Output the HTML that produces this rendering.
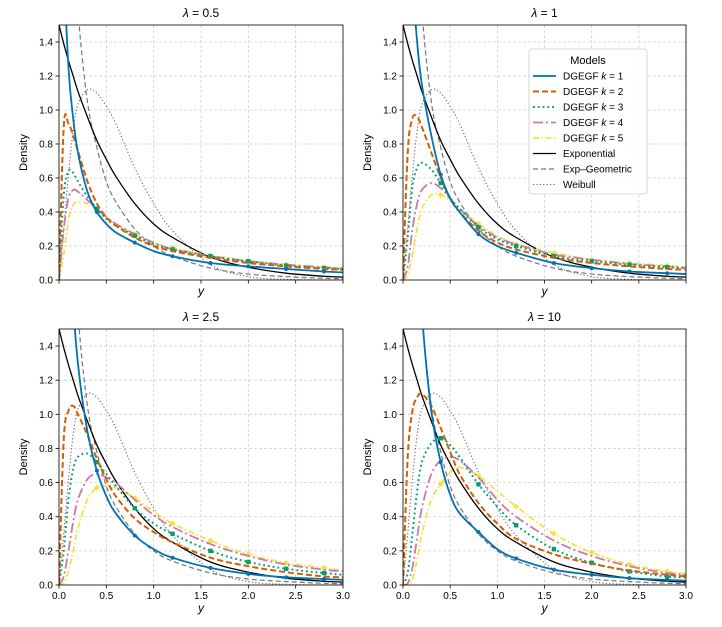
<!DOCTYPE html>
<html><head><meta charset="utf-8"><style>
body{margin:0;background:#fff;}
svg{display:block;font-family:"Liberation Sans","DejaVu Sans",sans-serif;}
</style></head><body>
<svg id="fig" width="722" height="627" viewBox="0 0 722 627" xmlns="http://www.w3.org/2000/svg"></svg>
<script>
const xs = [0,0.05,0.1,0.15,0.2,0.3,0.4,0.5,0.6,0.8,1.0,1.2,1.6,2.0,2.4,2.8,3.0];
const expo = [1.5,1.39,1.29,1.2,1.11,0.96,0.82,0.71,0.61,0.45,0.33,0.25,0.135,0.075,0.04,0.022,0.017];
const expGeo = [3,3,3,2.3,1.6,1.05,0.78,0.58,0.46,0.3,0.2,0.14,0.07,0.035,0.02,0.01,0.008];
const weib = [0,0.3,0.62,0.88,1.03,1.12,1.1,1.02,0.92,0.66,0.45,0.29,0.09,0.02,0.004,0,0];
const titles = ["0.5","1","2.5","10"];
const k1 = [
 [3,1.9,1.25,0.95,0.75,0.52,0.40,0.33,0.28,0.22,0.17,0.14,0.10,0.08,0.065,0.05,0.045],
 [3,2.6,1.8,1.4,1.15,0.85,0.62,0.48,0.4,0.27,0.2,0.16,0.1,0.07,0.05,0.04,0.035],
 [3,3,2.6,1.7,1.3,0.9,0.67,0.52,0.42,0.29,0.21,0.16,0.1,0.065,0.045,0.035,0.03],
 [3,3,3,2.2,1.6,1.02,0.72,0.53,0.42,0.31,0.21,0.155,0.09,0.06,0.04,0.03,0.025]];
const k2 = [
 [0,0.9,0.92,0.85,0.76,0.58,0.45,0.37,0.32,0.25,0.2,0.17,0.13,0.1,0.08,0.065,0.06],
 [0,0.75,0.95,0.96,0.9,0.75,0.6,0.48,0.4,0.29,0.22,0.18,0.13,0.1,0.08,0.065,0.06],
 [0,0.85,1.02,1.05,1.0,0.88,0.74,0.62,0.52,0.39,0.31,0.25,0.16,0.11,0.075,0.05,0.045],
 [0,0.75,1.02,1.1,1.12,1.05,0.92,0.78,0.65,0.48,0.36,0.27,0.18,0.125,0.085,0.06,0.05]];
const k3 = [
 [0,0.5,0.64,0.63,0.58,0.49,0.42,0.36,0.32,0.26,0.21,0.18,0.14,0.11,0.085,0.07,0.065],
 [0,0.25,0.55,0.66,0.69,0.65,0.57,0.48,0.42,0.31,0.24,0.2,0.14,0.11,0.09,0.075,0.07],
 [0,0.2,0.5,0.68,0.75,0.77,0.72,0.65,0.58,0.45,0.36,0.3,0.2,0.135,0.095,0.07,0.06],
 [0,0.07,0.3,0.55,0.72,0.83,0.86,0.82,0.75,0.59,0.46,0.35,0.21,0.13,0.08,0.05,0.045]];
const k4 = [
 [0,0.3,0.48,0.53,0.52,0.47,0.42,0.37,0.33,0.27,0.22,0.18,0.14,0.11,0.09,0.075,0.068],
 [0,0.08,0.3,0.45,0.53,0.57,0.54,0.48,0.42,0.32,0.25,0.21,0.15,0.12,0.095,0.08,0.072],
 [0,0.05,0.2,0.37,0.5,0.62,0.65,0.63,0.6,0.5,0.41,0.34,0.24,0.17,0.12,0.09,0.08],
 [0,0.01,0.1,0.28,0.45,0.65,0.73,0.75,0.73,0.63,0.5,0.4,0.26,0.17,0.11,0.07,0.06]];
const k5 = [
 [0,0.15,0.35,0.44,0.46,0.45,0.41,0.37,0.33,0.27,0.22,0.19,0.145,0.115,0.09,0.075,0.07],
 [0,0.03,0.15,0.3,0.42,0.5,0.5,0.47,0.42,0.33,0.26,0.21,0.16,0.12,0.1,0.085,0.075],
 [0,0.01,0.08,0.2,0.33,0.5,0.57,0.58,0.57,0.51,0.43,0.36,0.26,0.18,0.13,0.1,0.085],
 [0,0,0.03,0.15,0.3,0.5,0.59,0.66,0.69,0.64,0.55,0.46,0.3,0.19,0.12,0.08,0.065]];
const xTicks = ["0.0","0.5","1.0","1.5","2.0","2.5","3.0"];
const yTicks = ["0.0","0.2","0.4","0.6","0.8","1.0","1.2","1.4"];

const NS="http://www.w3.org/2000/svg";
const svg=document.getElementById('fig');
function mk(tag,attrs,parent){const e=document.createElementNS(NS,tag);for(const k in attrs)e.setAttribute(k,attrs[k]);(parent||svg).appendChild(e);return e;}
const panels=[{l:59,r:343,t:25,b:280,lab:false},{l:403,r:686,t:25,b:280,lab:false},{l:59,r:343,t:329,b:585,lab:true},{l:403,r:686,t:329,b:585,lab:true}];
const markerIdx=[6,9,11,12,13,14,15];
function pathFrom(px,py){let d="M"+px[0]+","+py[0];for(let i=0;i<px.length-1;i++){const x0=px[i>0?i-1:i],y0=py[i>0?i-1:i],x1=px[i],y1=py[i],x2=px[i+1],y2=py[i+1],x3=px[i+2<px.length?i+2:i+1],y3=py[i+2<px.length?i+2:i+1];d+=" C"+(x1+(x2-x0)/6).toFixed(2)+","+(y1+(y2-y0)/6).toFixed(2)+" "+(x2-(x3-x1)/6).toFixed(2)+","+(y2-(y3-y1)/6).toFixed(2)+" "+x2.toFixed(2)+","+y2.toFixed(2);}return d;}
panels.forEach((p,pi)=>{
  const g=mk('g',{});
  
  
  const sx=v=>p.l+(p.r-p.l)*v/3, sy=v=>p.b-(p.b-p.t)*v/1.5;
  const cid='clip'+pi;
  const cp=mk('clipPath',{id:cid},g);mk('rect',{x:p.l,y:p.t,width:p.r-p.l,height:p.b-p.t},cp);
  // grid
  xTicks.forEach((t,i)=>{const x=sx(i*0.5);
    const gl=mk('line',{x1:x,x2:x,y1:p.t,y2:p.b,stroke:'#d0d0d0','stroke-width':0.8,'stroke-dasharray':'3,2'},g);
    
    
    mk('line',{x1:x,x2:x,y1:p.b,y2:p.b+3.5,stroke:'#000','stroke-width':0.8},g);
    if(p.lab){const tx=mk('text',{x:x,y:p.b+14,'font-size':10,'text-anchor':'middle',fill:'#000'},g);tx.textContent=t;
      
      }
  });
  yTicks.forEach((t,i)=>{const y=sy(i*0.2);
    const gl=mk('line',{x1:p.l,x2:p.r,y1:y,y2:y,stroke:'#d0d0d0','stroke-width':0.8,'stroke-dasharray':'3,2'},g);
    
    
    mk('line',{x1:p.l-3.5,x2:p.l,y1:y,y2:y,stroke:'#000','stroke-width':0.8},g);
    const tx=mk('text',{x:p.l-6,y:y+3.5,'font-size':10,'text-anchor':'end',fill:'#000'},g);tx.textContent=t;
    
    
  });
  const cg=mk('g',{'clip-path':'url(#'+cid+')'},g);
  const series=[
    {d:weib,c:'#666',w:1.1,da:'1.2,2.2',n:'weibull-line'},
    {d:expGeo,c:'#777',w:1.2,da:'5,3',n:'exp-geometric-line'},
    {d:expo,c:'#000',w:1.3,da:'',n:'exponential-line'},
    {d:k5[pi],c:'#f0e442',w:1.8,da:'6,2.5,1.5,2.5',n:'dgegf-k5-line',m:'diamond'},
    {d:k4[pi],c:'#cc79a7',w:1.8,da:'10,3,2,3',n:'dgegf-k4-line',m:'none'},
    {d:k3[pi],c:'#009e73',w:2,da:'1.8,3',n:'dgegf-k3-line',m:'square'},
    {d:k2[pi],c:'#d55e00',w:2,da:'6,3',n:'dgegf-k2-line',m:'none'},
    {d:k1[pi],c:'#0072b2',w:1.8,da:'',n:'dgegf-k1-line',m:'circle'}];
  series.forEach(s=>{
    const px=xs.map(sx), py=s.d.map(sy);
    const a={d:pathFrom(px,py),fill:'none',stroke:s.c,'stroke-width':s.w};if(s.da)a['stroke-dasharray']=s.da;
    const pe=mk('path',a,cg);
    
    
    if(s.m&&s.m!=='none'){markerIdx.forEach(i=>{const x=sx(xs[i]),y=sy(s.d[i]);let m;
      if(s.m==='circle')m=mk('circle',{cx:x,cy:y,r:2,fill:s.c},cg);
      else if(s.m==='square')m=mk('rect',{x:x-2.2,y:y-2.2,width:4.4,height:4.4,fill:s.c},cg);
      else m=mk('path',{d:`M${x},${y-3}L${x+3},${y}L${x},${y+3}L${x-3},${y}Z`,fill:s.c},cg);
      
      });}
  });
  const fr=mk('rect',{x:p.l,y:p.t,width:p.r-p.l,height:p.b-p.t,fill:'none',stroke:'#000','stroke-width':0.8},g);
  
  
  const ti=mk('text',{x:(p.l+p.r)/2,y:p.t-8,'font-size':12,'text-anchor':'middle',fill:'#000'},g);
  ti.innerHTML='<tspan font-style="italic">λ</tspan> = '+titles[pi];
  
  
  const yl=mk('text',{x:0,y:0,'font-size':11,'text-anchor':'middle',fill:'#000',transform:`translate(${p.l-32},${(p.t+p.b)/2}) rotate(-90)`},g);yl.textContent='Density';
  
  
  const xl=mk('text',{x:(p.l+p.r)/2,y:p.b+(p.lab?27:15),'font-size':12,'font-style':'italic','text-anchor':'middle',fill:'#000'},g);xl.textContent='y';
  
  
});
// legend
const lg=mk('g',{});


mk('rect',{x:529,y:49,width:118,height:145,rx:3,fill:'#fff','fill-opacity':0.85,stroke:'#ccc','stroke-width':0.8},lg);
const lt=mk('text',{x:588,y:64,'font-size':11,'text-anchor':'middle',fill:'#000'},lg);lt.textContent='Models';


const legItems=[
 ['DGEGF ','k = 1','#0072b2',1.8,''],['DGEGF ','k = 2','#d55e00',2,'6,3'],['DGEGF ','k = 3','#009e73',2,'1.8,3'],
 ['DGEGF ','k = 4','#cc79a7',1.8,'10,3,2,3'],['DGEGF ','k = 5','#f0e442',1.8,'6,2.5,1.5,2.5'],
 ['Exponential','','#000',1.3,''],['Exp–Geometric','','#777',1.2,'5,3'],['Weibull','','#666',1.1,'1.2,2.2']];
legItems.forEach((it,i)=>{const y=76+i*15.5;
  const a={x1:533,x2:556,y1:y,y2:y,stroke:it[2],'stroke-width':it[3]};if(it[4])a['stroke-dasharray']=it[4];
  const ln=mk('line',a,lg);
  
  
  const t=mk('text',{x:563,y:y+3.5,'font-size':10,fill:'#000'},lg);
  t.innerHTML=it[1]?it[0]+'<tspan font-style="italic">k</tspan>'+it[1].slice(1):it[0];
  
  
});
</script>
</body></html>
